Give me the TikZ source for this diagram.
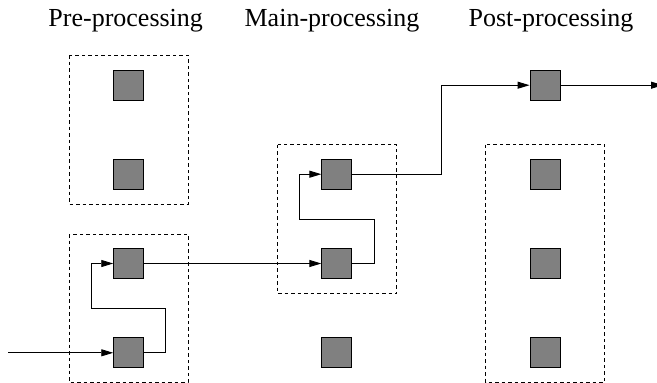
\documentclass[tikz,border=0pt]{standalone}
\usepackage{fontspec}
\setmainfont{Liberation Serif}
\usetikzlibrary{arrows.meta}
\begin{document}
\begin{tikzpicture}[x=1pt,y=-1pt,
  unit/.style={draw=black,fill=black!50,line width=0.9pt,minimum size=30pt,inner sep=0pt},
  group/.style={draw=black,dashed,line width=0.8pt,dash pattern=on 3.5pt off 3pt},
  link/.style={draw=black,line width=0.9pt,-{Triangle[length=12pt,width=7pt]}},
  stage/.style={anchor=base,font=\fontsize{26}{30}\selectfont,inner sep=0pt}]
\useasboundingbox (0,0) rectangle (657,383);

% stage titles
\node[stage] (tpre)  at (125.7,26) {Pre-processing};
\node[stage] (tmain) at (332,26)   {Main-processing};
\node[stage] (tpost) at (551,26)   {Post-processing};

% dashed groups
\draw[group] (69,55) rectangle (188,204);
\draw[group] (69,234) rectangle (188,382);
\draw[group] (277.5,144.5) rectangle (396.5,293.5);
\draw[group] (485.5,144.5) rectangle (604.5,382);

% processing units
\node[unit] (a1) at (128.7,85.2) {};
\node[unit] (a2) at (128.7,174.2) {};
\node[unit] (a3) at (128.7,263.5) {};
\node[unit] (a4) at (128.7,352.8) {};
\node[unit] (b2) at (336.8,174.2) {};
\node[unit] (b3) at (336.8,263.5) {};
\node[unit] (b4) at (336.8,352.8) {};
\node[unit] (c1) at (545,85.2) {};
\node[unit] (c2) at (545,174.2) {};
\node[unit] (c3) at (545,263.5) {};
\node[unit] (c4) at (545,352.8) {};

% input and output ends
\coordinate (in)  at (8,352.8);
\coordinate (out) at (663,85.2);

% data flow
\draw[link] (in) -- (a4.west);
\draw[link] (a4.east) -- (165.7,352.8) |- (91,308.3) |- (a3.west);
\draw[link] (a3.east) -- (b3.west);
\draw[link] (b3.east) -- (374,263.5) |- (299.7,219.3) |- (b2.west);
\draw[link] (b2.east) -- (441,174.2) |- (c1.west);
\draw[link] (c1.east) -- (out);
\end{tikzpicture}
\end{document}
